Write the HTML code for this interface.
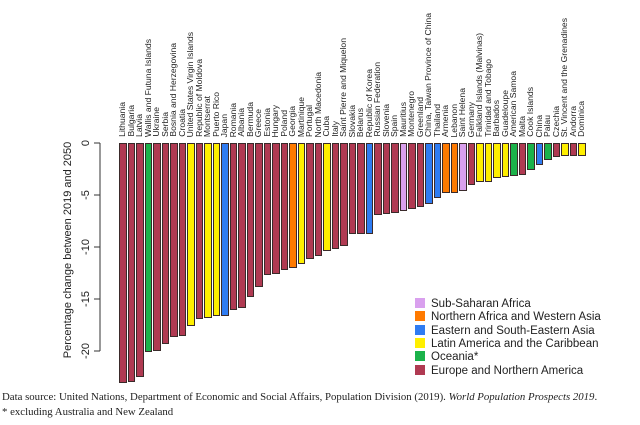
<!DOCTYPE html><html><head><style>
body{margin:0;width:640px;height:425px;background:#fff;position:relative;overflow:hidden;font-family:"Liberation Sans",sans-serif}
#lab{position:absolute;left:118px;top:0;height:137px;display:flex;align-items:flex-end}
#lab div{width:8.5px;writing-mode:vertical-rl;transform:rotate(180deg);font-size:8.6px;line-height:8.5px;white-space:nowrap;color:#222}
#bars{position:absolute;left:119px;top:143px;display:flex;align-items:flex-start}
#bars div{width:7.5px;margin-right:1px;box-sizing:border-box;border:1px solid #3a2a2a;background:#B03A52}
.y{background:#FFEF00!important}.g{background:#1BB24A!important}.b{background:#2F7CF2!important}.o{background:#FF7A00!important}.p{background:#D9A0EE!important}
.leg{position:absolute;left:415px;font-size:11.5px;color:#222}
.leg span{display:inline-block;width:10px;height:10px;margin-right:6px;vertical-align:-1px}
.src{position:absolute;left:2px;font-family:"Liberation Serif",serif;font-size:10.8px;color:#222}
</style></head><body>
<svg width="640" height="425" style="position:absolute;left:0;top:0">
<g stroke="#333" stroke-width="1">
<line x1="100" y1="143" x2="100" y2="351"/>
<line x1="94" y1="143" x2="100" y2="143"/><line x1="94" y1="195" x2="100" y2="195"/><line x1="94" y1="247" x2="100" y2="247"/><line x1="94" y1="299" x2="100" y2="299"/><line x1="94" y1="351" x2="100" y2="351"/>
</g>
<g font-size="11" fill="#222" text-anchor="middle" font-family="Liberation Sans">
<text transform="translate(89,143) rotate(-90)">0</text>
<text transform="translate(89,195) rotate(-90)">-5</text>
<text transform="translate(89,247) rotate(-90)">-10</text>
<text transform="translate(89,299) rotate(-90)">-15</text>
<text transform="translate(89,351) rotate(-90)">-20</text>
<text transform="translate(71,250) rotate(-90)">Percentage change between 2019 and 2050</text>
</g></svg>
<div id="lab"><div>Lithuania</div><div>Bulgaria</div><div>Latvia</div><div>Wallis and Futuna Islands</div><div>Ukraine</div><div>Serbia</div><div>Bosnia and Herzegovina</div><div>Croatia</div><div>United States Virgin Islands</div><div>Republic of Moldova</div><div>Montserrat</div><div>Puerto Rico</div><div>Japan</div><div>Romania</div><div>Albania</div><div>Bermuda</div><div>Greece</div><div>Estonia</div><div>Hungary</div><div>Poland</div><div>Georgia</div><div>Martinique</div><div>Portugal</div><div>North Macedonia</div><div>Cuba</div><div>Italy</div><div>Saint Pierre and Miquelon</div><div>Slovakia</div><div>Belarus</div><div>Republic of Korea</div><div>Russian Federation</div><div>Slovenia</div><div>Spain</div><div>Mauritius</div><div>Montenegro</div><div>Greenland</div><div>China, Taiwan Province of China</div><div>Thailand</div><div>Armenia</div><div>Lebanon</div><div>Saint Helena</div><div>Germany</div><div>Falkland Islands (Malvinas)</div><div>Trinidad and Tobago</div><div>Barbados</div><div>Guadeloupe</div><div>American Samoa</div><div>Malta</div><div>Cook Islands</div><div>China</div><div>Palau</div><div>Czechia</div><div>St. Vincent and the Grenadines</div><div>Andorra</div><div>Dominica</div></div>
<div id="bars">
<div style="height:240px"></div><div style="height:239px"></div><div style="height:234px"></div><div class="g" style="height:209px"></div><div style="height:208px"></div><div style="height:201px"></div><div style="height:194px"></div><div style="height:193px"></div><div class="y" style="height:183px"></div><div style="height:176px"></div><div class="y" style="height:175px"></div><div class="y" style="height:173px"></div><div class="b" style="height:173px"></div><div style="height:167px"></div><div style="height:165px"></div><div style="height:154px"></div><div style="height:144px"></div><div style="height:132px"></div><div style="height:131px"></div><div style="height:127px"></div><div class="o" style="height:125px"></div><div class="y" style="height:121px"></div><div style="height:116px"></div><div style="height:113px"></div><div class="y" style="height:108px"></div><div style="height:106px"></div><div style="height:103px"></div><div style="height:91px"></div><div style="height:91px"></div><div class="b" style="height:91px"></div><div style="height:72px"></div><div style="height:71px"></div><div style="height:70px"></div><div class="p" style="height:68px"></div><div style="height:66px"></div><div style="height:64px"></div><div class="b" style="height:61px"></div><div class="b" style="height:55px"></div><div class="o" style="height:50px"></div><div class="o" style="height:50px"></div><div class="p" style="height:48px"></div><div style="height:42px"></div><div class="y" style="height:39px"></div><div class="y" style="height:39px"></div><div class="y" style="height:35px"></div><div class="y" style="height:34px"></div><div class="g" style="height:33px"></div><div style="height:32px"></div><div class="g" style="height:27px"></div><div class="b" style="height:22px"></div><div class="g" style="height:17px"></div><div style="height:14px"></div><div class="y" style="height:13px"></div><div style="height:13px"></div><div class="y" style="height:13px"></div>
</div>
<div class="leg" style="top:298px"><span class="p"></span>Sub-Saharan Africa</div>
<div class="leg" style="top:311px"><span class="o"></span>Northern Africa and Western Asia</div>
<div class="leg" style="top:325px"><span class="b"></span>Eastern and South-Eastern Asia</div>
<div class="leg" style="top:338px"><span class="y"></span>Latin America and the Caribbean</div>
<div class="leg" style="top:351px"><span class="g"></span>Oceania*</div>
<div class="leg" style="top:365px"><span style="background:#B03A52"></span>Europe and Northern America</div>
<div class="src" style="top:391px">Data source: United Nations, Department of Economic and Social Affairs, Population Division (2019). <i>World Population Prospects 2019</i>.</div>
<div class="src" style="top:406px">* excluding Australia and New Zealand</div>
</body></html>
